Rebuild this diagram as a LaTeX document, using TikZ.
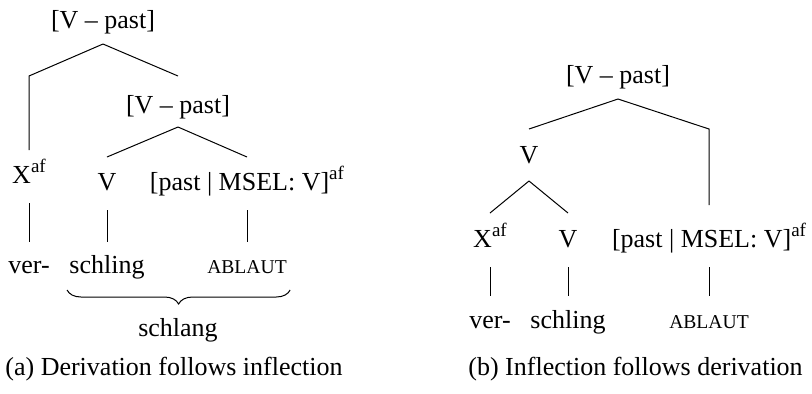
\documentclass[tikz,border=0pt]{standalone}
\usepackage{fontspec}
\setmainfont{Liberation Serif}
\usetikzlibrary{decorations.pathreplacing}

\newcommand{\affix}{\raisebox{0.42em}{\fontsize{9.5}{11}\selectfont af}}

\begin{document}
\begin{tikzpicture}[
			x=0.5pt, y=-0.5pt,
			word/.style = {anchor=base, inner sep=0pt, font=\fontsize{13}{15}\selectfont},
			caps/.style = {word, font=\fontsize{9.8}{12}\selectfont},
			branch/.style = {line width=0.5pt}
		]
		\useasboundingbox (0,0) rectangle (812,393);
		% (a)
		\node[word] (a1) at (103,28) {[V -- past]};
		\node[word] (a2) at (178,113) {[V -- past]};
		\node[word] (a3) at (29,183) {X\affix};
		\node[word] (a4) at (107,190) {V};
		\node[word] (a5) at (247,190) {[past | MSEL: V]\affix};
		\node[word] (a6) at (29,273) {ver-};
		\node[word] (a7) at (107,273) {schling};
		\node[caps] (a8) at (247,273) {ABLAUT};
		\node[word] (a9) at (178,336) {schlang};
		\node[word, anchor=base west] (capa) at (5,375) {(a) Derivation follows inflection};
		\coordinate (a2t) at ([yshift=18.5pt]a2.base);
		\draw[branch] ([yshift=-8pt]a1.base) -- (a2t);
		\draw[branch] ([yshift=-8pt]a1.base) -- (a3 |- a2t) -- ([yshift=16.5pt]a3.base);
		\draw[branch] ([yshift=-7pt]a2.base) -- ([yshift=16.5pt]a4.base);
		\draw[branch] ([yshift=-7pt]a2.base) -- ([yshift=16.5pt]a5.base);
		\draw[branch] ([yshift=-10pt]a3.base) -- ([yshift=15.5pt]a6.base);
		\draw[branch] ([yshift=-10pt]a4.base) -- ([yshift=15.5pt]a7.base);
		\draw[branch] ([yshift=-10pt]a5.base) -- ([yshift=15.5pt]a8.base);
		\draw[branch, decorate, decoration={brace, mirror, amplitude=7pt}]
			([xshift=-1pt, yshift=-8.5pt]a7.base west) -- ([xshift=1.5pt, yshift=-8.5pt]a8.base east);
		% (b)
		\node[word] (b1) at (618,83) {[V -- past]};
		\node[word] (b2) at (529,163) {V};
		\node[word] (b3) at (490,247) {X\affix};
		\node[word] (b4) at (568,247) {V};
		\node[word] (b5) at (709,247) {[past | MSEL: V]\affix};
		\node[word] (b6) at (490,328) {ver-};
		\node[word] (b7) at (568,328) {schling};
		\node[caps] (b8) at (709,328) {ABLAUT};
		\node[word, anchor=base west] (capb) at (468,375) {(b) Inflection follows derivation};
		\coordinate (b2t) at ([yshift=17pt]b2.base);
		\draw[branch] ([yshift=-8pt]b1.base) -- (b2t);
		\draw[branch] ([yshift=-8pt]b1.base) -- (b5 |- b2t) -- ([yshift=21pt]b5.base);
		\draw[branch] ([yshift=-9pt]b2.base) -- ([yshift=17pt]b3.base);
		\draw[branch] ([yshift=-9pt]b2.base) -- ([yshift=17pt]b4.base);
		\draw[branch] ([yshift=-10pt]b3.base) -- ([yshift=16pt]b6.base);
		\draw[branch] ([yshift=-10pt]b4.base) -- ([yshift=16pt]b7.base);
		\draw[branch] ([yshift=-10pt]b5.base) -- ([yshift=16pt]b8.base);
	\end{tikzpicture}
\end{document}
